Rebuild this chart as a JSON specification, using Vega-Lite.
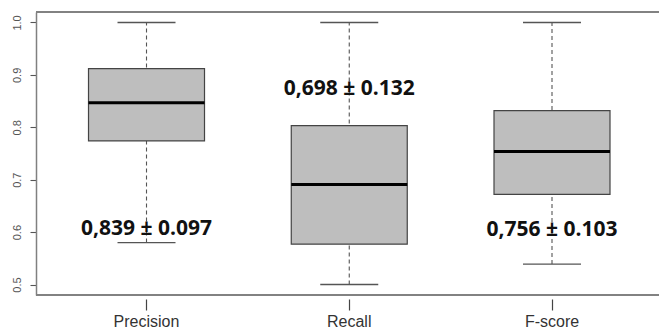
{
  "$schema": "https://vega.github.io/schema/vega-lite/v6.json",
  "autosize": "none",
  "padding": {"left": 36, "top": 12, "right": 0, "bottom": 38},
  "width": 623,
  "height": 283,
  "background": "white",
  "config": {"view": {"stroke": null}},
  "data": {
    "values": [
      {"metric": "Precision", "lower": 0.580, "q1": 0.774, "median": 0.847, "q3": 0.912, "upper": 1.0, "label": "0,839 ± 0.097", "labelY": 0.605},
      {"metric": "Recall", "lower": 0.500, "q1": 0.577, "median": 0.691, "q3": 0.803, "upper": 1.0, "label": "0,698 ± 0.132", "labelY": 0.874},
      {"metric": "F-score", "lower": 0.539, "q1": 0.672, "median": 0.754, "q3": 0.832, "upper": 1.0, "label": "0,756 ± 0.103", "labelY": 0.604}
    ]
  },
  "layer": [
    {
      "mark": {"type": "rule", "color": "#555555", "strokeWidth": 1.1, "strokeDash": [4, 3], "opacity": 1},
      "encoding": {
        "x": {
          "field": "metric",
          "type": "nominal",
          "sort": ["Precision", "Recall", "F-score"],
          "scale": {"paddingInner": 0, "paddingOuter": 0.0364, "align": 0.619},
          "title": null,
          "axis": {
            "domain": false,
            "offset": 4,
            "tickSize": 11,
            "tickColor": "#444444",
            "tickWidth": 1.2,
            "labelAngle": 0,
            "labelFont": "Liberation Sans",
            "labelFontSize": 16,
            "labelColor": "#333333",
            "labelPadding": 3
          }
        },
        "y": {
          "field": "lower",
          "type": "quantitative",
          "scale": {"domain": [0.48, 1.02], "nice": false, "zero": false},
          "title": null,
          "axis": {
            "values": [0.5, 0.6, 0.7, 0.8, 0.9, 1.0],
            "format": ".1f",
            "grid": false,
            "domain": true,
            "domainColor": "#808080",
            "domainWidth": 1.5,
            "tickSize": 6,
            "tickColor": "#555555",
            "tickWidth": 1.1,
            "labelAngle": 270,
            "labelAlign": "center",
            "labelBaseline": "bottom",
            "labelPadding": 8,
            "labelFont": "Liberation Sans",
            "labelFontSize": 11,
            "labelColor": "#555555"
          }
        },
        "y2": {"field": "upper"}
      }
    },
    {
      "mark": {"type": "tick", "color": "#555555", "thickness": 1.3, "size": 58, "opacity": 1},
      "encoding": {
        "x": {"field": "metric", "type": "nominal", "sort": ["Precision", "Recall", "F-score"]},
        "y": {"field": "lower", "type": "quantitative"}
      }
    },
    {
      "mark": {"type": "tick", "color": "#555555", "thickness": 1.3, "size": 58, "opacity": 1},
      "encoding": {
        "x": {"field": "metric", "type": "nominal", "sort": ["Precision", "Recall", "F-score"]},
        "y": {"field": "upper", "type": "quantitative"}
      }
    },
    {
      "mark": {"type": "bar", "size": 116, "fill": "#bebebe", "stroke": "#444444", "strokeWidth": 1.2, "opacity": 1},
      "encoding": {
        "x": {"field": "metric", "type": "nominal", "sort": ["Precision", "Recall", "F-score"]},
        "y": {"field": "q1", "type": "quantitative"},
        "y2": {"field": "q3"}
      }
    },
    {
      "mark": {"type": "tick", "color": "#000000", "thickness": 3, "size": 116, "opacity": 1},
      "encoding": {
        "x": {"field": "metric", "type": "nominal", "sort": ["Precision", "Recall", "F-score"]},
        "y": {"field": "median", "type": "quantitative"}
      }
    },
    {
      "mark": {"type": "text", "font": "Open Sans", "fontWeight": "bold", "fontSize": 21, "color": "#111111", "baseline": "middle", "align": "center"},
      "encoding": {
        "x": {"field": "metric", "type": "nominal", "sort": ["Precision", "Recall", "F-score"]},
        "y": {"field": "labelY", "type": "quantitative"},
        "text": {"field": "label"}
      }
    },
    {
      "mark": {"type": "rule", "color": "#808080", "strokeWidth": 1.5},
      "encoding": {"y": {"datum": 1.02}}
    },
    {
      "mark": {"type": "rule", "color": "#808080", "strokeWidth": 1.5},
      "encoding": {"y": {"datum": 0.48}}
    }
  ]
}
